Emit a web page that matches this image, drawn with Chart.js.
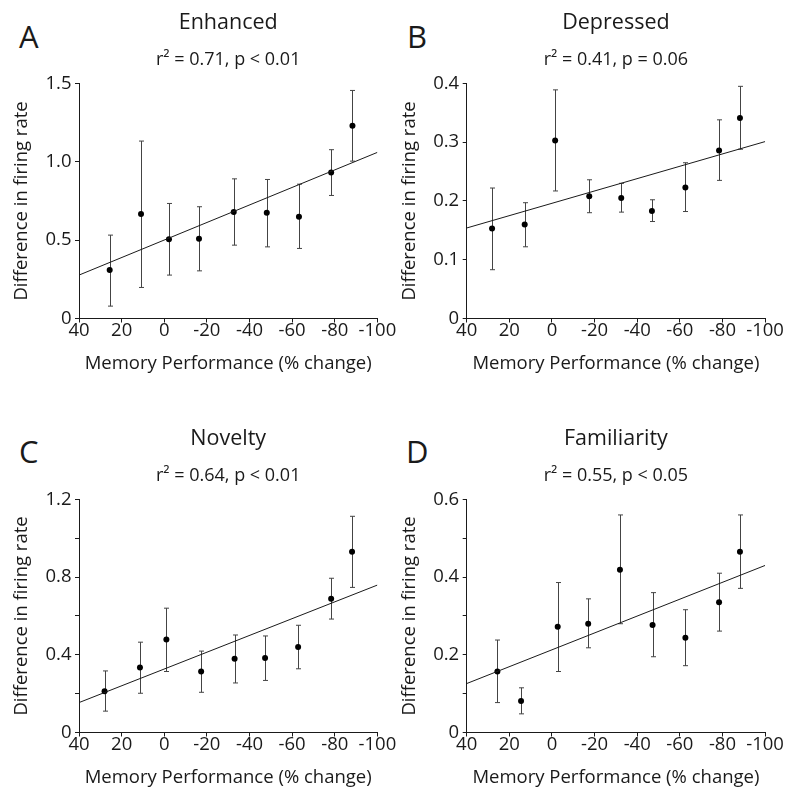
<!DOCTYPE html>
<html>
<head>
<meta charset="utf-8">
<script src="https://cdn.jsdelivr.net/npm/chart.js@4/dist/chart.umd.min.js"></script>
<style>
  html, body { margin: 0; padding: 0; background: #fff; overflow: hidden; }
  body { width: 785px; height: 790px; position: relative; font-family: "Open Sans", sans-serif; color: #1a1a1a; }
  canvas { position: absolute; }
  .letter { position: absolute; font-size: 31px; line-height: 1; }
</style>
</head>
<body>
<div class="letter" style="left:19px;top:21px">A</div>
<div class="letter" style="left:407px;top:21px">B</div>
<div class="letter" style="left:19px;top:436px">C</div>
<div class="letter" style="left:406px;top:436px">D</div>
<canvas id="chartA" width="410" height="376" style="left:0;top:0"></canvas>
<canvas id="chartB" width="410" height="376" style="left:392px;top:0"></canvas>
<canvas id="chartC" width="410" height="374" style="left:0;top:416px"></canvas>
<canvas id="chartD" width="410" height="374" style="left:392px;top:416px"></canvas>
<script>
// shared x positions of the fitted lines
const fitX = [40, -100];

// A - Enhanced
const perfA = [25.6, 10.9, -2.2, -16.3, -32.6, -48.1, -63.2, -78.3, -88.3];
const rateA = [0.309, 0.666, 0.506, 0.509, 0.679, 0.674, 0.649, 0.932, 1.230];
const upA = [0.532, 1.132, 0.734, 0.713, 0.891, 0.887, 0.857, 1.077, 1.455];
const lowA = [0.079, 0.198, 0.277, 0.304, 0.468, 0.457, 0.447, 0.785, 1.004];
const fitA = [0.277, 1.060];

// B - Depressed
const perfB = [28.1, 12.8, -1.5, -17.5, -32.5, -46.9, -62.6, -78.4, -88.2];
const rateB = [0.153, 0.160, 0.303, 0.208, 0.205, 0.183, 0.223, 0.286, 0.341];
const upB = [0.222, 0.197, 0.389, 0.236, 0.230, 0.202, 0.265, 0.338, 0.395];
const lowB = [0.083, 0.122, 0.217, 0.180, 0.181, 0.165, 0.182, 0.235, 0.288];
const fitB = [0.154, 0.301];

// C - Novelty
const perfC = [28.0, 11.4, -1.0, -17.3, -33.0, -47.3, -62.8, -78.3, -88.1];
const rateC = [0.212, 0.334, 0.479, 0.314, 0.380, 0.384, 0.440, 0.689, 0.930];
const upC = [0.317, 0.465, 0.640, 0.419, 0.502, 0.497, 0.552, 0.794, 1.113];
const lowC = [0.110, 0.202, 0.314, 0.207, 0.255, 0.268, 0.328, 0.584, 0.747];
const fitC = [0.154, 0.759];

// D - Familiarity
const perfD = [25.6, 14.5, -2.7, -17.0, -31.9, -47.2, -62.6, -78.4, -88.2];
const rateD = [0.157, 0.081, 0.272, 0.280, 0.419, 0.277, 0.244, 0.335, 0.465];
const upD = [0.238, 0.115, 0.386, 0.344, 0.560, 0.360, 0.316, 0.410, 0.560];
const lowD = [0.077, 0.048, 0.157, 0.218, 0.280, 0.195, 0.172, 0.261, 0.371];
const fitD = [0.126, 0.430];

// tick labels
const xTicks = [40, 20, 0, -20, -40, -60, -80, -100];
const yLabelsA = [0, 0.5, 1.0, 1.5];
const yLabelsB = [0, 0.1, 0.2, 0.3, 0.4];
const yLabelsC = [0, 0.4, 0.8, 1.2];
const yLabelsD = [0, 0.2, 0.4, 0.6];

const ink = '#1a1a1a';
const fontFamily = '"Open Sans", sans-serif';

function makeErrorBars(xs, hi, lo) {
    return {
        id: 'errorBars',
        beforeDatasetsDraw(chart) {
            const ctx = chart.ctx;
            const x = chart.scales.x, y = chart.scales.y;
            ctx.save();
            ctx.strokeStyle = '#444';
            ctx.lineWidth = 1;
            for (let i = 0; i < xs.length; i++) {
                const px = Math.round(x.getPixelForValue(xs[i])) + 0.5;
                const top = y.getPixelForValue(hi[i]);
                const bot = y.getPixelForValue(lo[i]);
                ctx.beginPath();
                ctx.moveTo(px, top); ctx.lineTo(px, bot);
                ctx.moveTo(px - 2.5, top); ctx.lineTo(px + 2.5, top);
                ctx.moveTo(px - 2.5, bot); ctx.lineTo(px + 2.5, bot);
                ctx.stroke();
            }
            ctx.restore();
        }
    };
}

function makePanel(id, title, stats, xs, ys, hi, lo, fit, yMax, yStep, yLabels, yAxisWidth) {
    const points = xs.map((v, i) => ({ x: v, y: ys[i] }));
    const line = fitX.map((v, i) => ({ x: v, y: fit[i] }));
    new Chart(document.getElementById(id), {
        type: 'scatter',
        data: {
            datasets: [
                {
                    data: line,
                    showLine: true,
                    borderColor: ink,
                    borderWidth: 1,
                    pointRadius: 0,
                    fill: false
                },
                {
                    data: points,
                    pointRadius: 3,
                    pointBackgroundColor: '#000',
                    pointBorderWidth: 0
                }
            ]
        },
        options: {
            responsive: false,
            animation: false,
            layout: { padding: { left: 0, right: 410 - (yAxisWidth + 298.4), top: 0, bottom: 0 } },
            plugins: {
                legend: { display: false },
                tooltip: { enabled: false },
                title: {
                    display: true,
                    text: title,
                    fullSize: false,
                    color: ink,
                    font: { family: fontFamily, size: 21.5, weight: 'normal', lineHeight: 1.2 },
                    padding: { top: 10, bottom: 13 }
                },
                subtitle: {
                    display: true,
                    text: stats,
                    fullSize: false,
                    color: ink,
                    font: { family: fontFamily, size: 18, weight: 'normal', lineHeight: 1.2 },
                    padding: { top: 0, bottom: 13 }
                }
            },
            scales: {
                x: {
                    type: 'linear',
                    min: -100,
                    max: 40,
                    reverse: true,
                    afterFit: s => { s.height = 57.5; },
                    afterBuildTicks: s => { s.ticks = xTicks.map(v => ({ value: v })); },
                    border: { display: true, color: ink, width: 1 },
                    grid: { display: true, drawOnChartArea: false, drawTicks: true, tickLength: 4, tickColor: ink },
                    ticks: {
                        color: ink,
                        padding: -1.5,
                        maxRotation: 0,
                        font: { family: fontFamily, size: 18.5, lineHeight: 1 },
                        callback: v => String(v)
                    },
                    title: {
                        display: true,
                        text: 'Memory Performance (% change)',
                        color: ink,
                        font: { family: fontFamily, size: 18.5, lineHeight: 1.2 },
                        padding: { top: 0, bottom: 1.5 }
                    }
                },
                y: {
                    type: 'linear',
                    min: 0,
                    max: yMax,
                    afterFit: s => { s.width = yAxisWidth; },
                    afterBuildTicks: s => {
                        const t = [];
                        for (let v = 0; v <= yMax + 1e-9; v += yStep) t.push({ value: Math.round(v * 1000) / 1000 });
                        s.ticks = t;
                    },
                    border: { display: true, color: ink, width: 1 },
                    grid: { display: true, drawOnChartArea: false, drawTicks: true, tickLength: 4, tickColor: ink },
                    ticks: {
                        color: ink,
                        padding: 3.5,
                        font: { family: fontFamily, size: 18.5, lineHeight: 1.2 },
                        callback: v => {
                            if (!yLabels.some(l => Math.abs(l - v) < 1e-6)) return '';
                            return v === 0 ? '0' : v.toFixed(1);
                        }
                    },
                    title: {
                        display: true,
                        text: 'Difference in firing rate',
                        color: ink,
                        font: { family: fontFamily, size: 18.5, lineHeight: 1.2 },
                        padding: { top: yAxisWidth - 68, bottom: 0 }
                    }
                }
            }
        },
        plugins: [makeErrorBars(xs, hi, lo)]
    });
}

makePanel('chartA', 'Enhanced', 'r² = 0.71, p < 0.01', perfA, rateA, upA, lowA, fitA, 1.5, 0.5, yLabelsA, 79);
makePanel('chartB', 'Depressed', 'r² = 0.41, p = 0.06', perfB, rateB, upB, lowB, fitB, 0.4, 0.1, yLabelsB, 74.7);
makePanel('chartC', 'Novelty', 'r² = 0.64, p < 0.01', perfC, rateC, upC, lowC, fitC, 1.2, 0.2, yLabelsC, 79);
makePanel('chartD', 'Familiarity', 'r² = 0.55, p < 0.05', perfD, rateD, upD, lowD, fitD, 0.6, 0.1, yLabelsD, 74.7);
</script>
</body>
</html>
